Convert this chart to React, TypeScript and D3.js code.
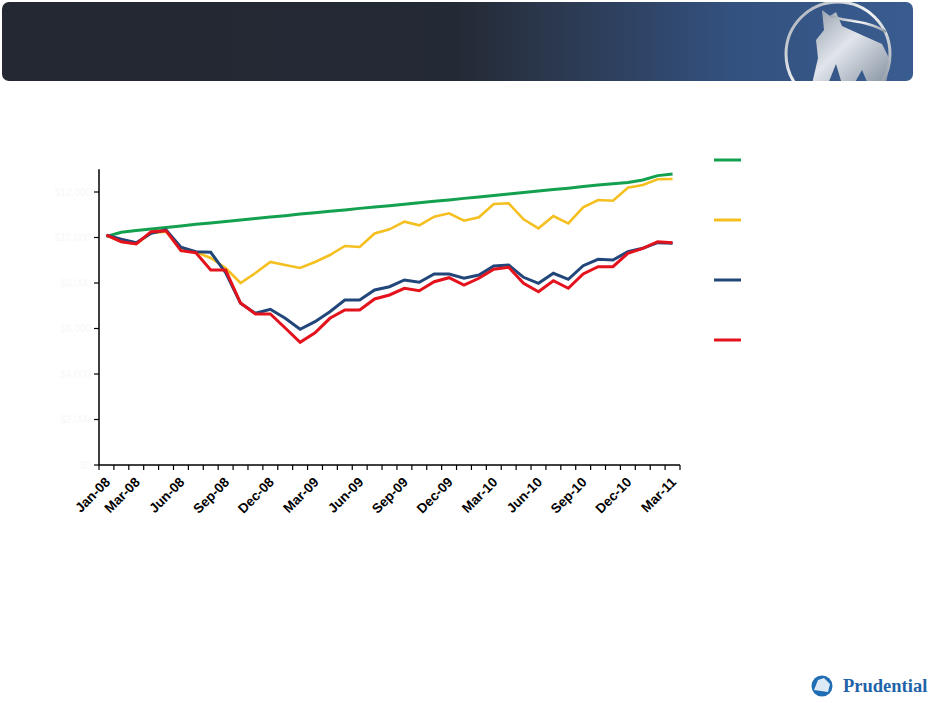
import React from 'react';
import * as d3 from 'd3';

const months = [
    'Jan-08', 'Feb-08', 'Mar-08', 'Apr-08', 'May-08', 'Jun-08', 'Jul-08', 'Aug-08', 'Sep-08', 'Oct-08', 'Nov-08', 'Dec-08',
    'Jan-09', 'Feb-09', 'Mar-09', 'Apr-09', 'May-09', 'Jun-09', 'Jul-09', 'Aug-09', 'Sep-09', 'Oct-09', 'Nov-09', 'Dec-09',
    'Jan-10', 'Feb-10', 'Mar-10', 'Apr-10', 'May-10', 'Jun-10', 'Jul-10', 'Aug-10', 'Sep-10', 'Oct-10', 'Nov-10', 'Dec-10',
    'Jan-11', 'Feb-11', 'Mar-11',
];

const tickLabels = [
    'Jan-08', 'Mar-08', 'Jun-08', 'Sep-08', 'Dec-08', 'Mar-09', 'Jun-09', 'Sep-09',
    'Dec-09', 'Mar-10', 'Jun-10', 'Sep-10', 'Dec-10', 'Mar-11',
];

const yTicks = [0, 2000, 4000, 6000, 8000, 10000, 12000];

const greenSeries = [
    10050, 10230, 10310, 10370, 10440, 10510, 10580, 10640, 10700, 10770, 10830, 10900, 10960,
    11030, 11090, 11150, 11210, 11280, 11340, 11400, 11460, 11530, 11590, 11650, 11720, 11780,
    11850, 11910, 11980, 12040, 12110, 12170, 12240, 12310, 12360, 12420, 12530, 12720, 12790,
];

const yellowSeries = [
    10100, 9815, 9714, 10198, 10255, 9451, 9363, 9099, 8659, 8000, 8440, 8923, 8791,
    8659, 8923, 9231, 9626, 9582, 10176, 10360, 10695, 10536, 10914, 11064, 10738, 10888,
    11473, 11503, 10800, 10404, 10945, 10624, 11327, 11648, 11618, 12189, 12308, 12558, 12570,
];

const blueSeries = [
    10100, 9921, 9771, 10185, 10330, 9569, 9376, 9349, 8453, 7108, 6668, 6844, 6448,
    5965, 6299, 6738, 7253, 7253, 7692, 7837, 8132, 8031, 8396, 8396, 8207, 8352,
    8747, 8791, 8250, 7987, 8426, 8163, 8760, 9042, 9011, 9376, 9525, 9771, 9745,
];

const redSeries = [
    10100, 9815, 9714, 10255, 10299, 9420, 9332, 8571, 8571, 7121, 6637, 6637, 6022,
    5393, 5815, 6448, 6813, 6813, 7297, 7473, 7767, 7662, 8057, 8233, 7912, 8207,
    8602, 8690, 7987, 7618, 8101, 7767, 8396, 8717, 8717, 9305, 9525, 9815, 9771,
];

const seriesColors = ['#13a04f', '#f4bf1f', '#22467a', '#e3121c'];
const seriesWidths = [3, 2.6, 3, 3];

const W = 932;
const H = 703;

const App: React.FC = () => {
    const x = d3.scaleBand<string>().domain(months).range([99, 680]);
    const y = d3.scaleLinear().domain([0, 13000]).range([465, 169.25]);
    const cx = (m: string) => (x(m) as number) + x.bandwidth() / 2;

    const line = d3
        .line<number>()
        .x((_, i) => cx(months[i]))
        .y((d) => y(d));

    const allSeries = [greenSeries, yellowSeries, blueSeries, redSeries];

    // tick marks sit on the category boundaries, like Excel
    const boundaries = d3.range(months.length + 1).map((i) => 99 + i * x.step());

    return (
        <div style={{ position: 'absolute', left: 0, top: 0 }}>
            <svg width={W} height={H} style={{ display: 'block', background: '#fff' }}>
                <defs>
                    <linearGradient id="band" x1="0" x2="1" y1="0" y2="0">
                        <stop offset="0" stopColor="#232832" />
                        <stop offset="0.5" stopColor="#242a35" />
                        <stop offset="0.62" stopColor="#2c3a52" />
                        <stop offset="0.8" stopColor="#33517f" />
                        <stop offset="1" stopColor="#395c90" />
                    </linearGradient>
                    <linearGradient id="silver" x1="0" x2="1" y1="0" y2="1">
                        <stop offset="0" stopColor="#9aa3ad" />
                        <stop offset="0.45" stopColor="#f4f5f6" />
                        <stop offset="1" stopColor="#8c96a2" />
                    </linearGradient>
                    <clipPath id="bandClip">
                        <rect x={2} y={2} width={911} height={79} rx={7} />
                    </clipPath>
                </defs>

                {/* header banner */}
                <rect x={2} y={2} width={911} height={79} rx={7} fill="url(#band)" />
                <g clipPath="url(#bandClip)">
                    <circle cx={838} cy={54} r={52} fill="none" stroke="url(#silver)" strokeWidth={3} />
                    <path
                        d="M822,10 L830,16 L836,12 L842,26 L864,36 L882,44 L890,60 L886,84 L868,84 L862,70 L854,84 L842,84 L836,64 L828,84 L812,84 L818,58 L816,40 L824,30 Z"
                        fill="url(#silver)"
                        opacity={0.9}
                    />
                    <path d="M830,16 C846,22 868,20 886,32" fill="none" stroke="url(#silver)" strokeWidth={2.5} />
                </g>

                {/* axes */}
                <line x1={99} x2={99} y1={169.25} y2={465} stroke="#000" strokeWidth={1.5} />
                <line x1={99} x2={680} y1={465} y2={465} stroke="#000" strokeWidth={1.5} />
                {yTicks.map((t) => (
                    <g key={t}>
                        <line x1={94} x2={99} y1={y(t)} y2={y(t)} stroke="#000" strokeWidth={1.2} />
                        <text
                            x={91}
                            y={y(t) + 3.5}
                            textAnchor="end"
                            fontFamily="Liberation Sans, Arial, sans-serif"
                            fontSize={10}
                            fill="#f8f8f8"
                        >
                            {d3.format('$,')(t)}
                        </text>
                    </g>
                ))}
                {boundaries.map((bx, i) => (
                    <line key={i} x1={bx} x2={bx} y1={465} y2={470} stroke="#000" strokeWidth={1.2} />
                ))}
                {tickLabels.map((m) => (
                    <text
                        key={m}
                        transform={`translate(${cx(m) + 4.5},${483}) rotate(-45)`}
                        textAnchor="end"
                        fontFamily="Liberation Sans, Arial, sans-serif"
                        fontWeight="bold"
                        fontSize={13.5}
                        fill="#000"
                    >
                        {m}
                    </text>
                ))}

                {/* series */}
                {allSeries.map((s, i) => (
                    <path
                        key={i}
                        d={line(s) as string}
                        fill="none"
                        stroke={seriesColors[i]}
                        strokeWidth={seriesWidths[i]}
                        strokeLinejoin="miter"
                    />
                ))}

                {/* legend swatches */}
                {seriesColors.map((c, i) => (
                    <line key={c} x1={714} x2={741} y1={160 + i * 60} y2={160 + i * 60} stroke={c} strokeWidth={3} />
                ))}

                {/* footer logo */}
                <g>
                    <circle cx={822} cy={686} r={10.5} fill="#1f6db5" />
                    <path d="M814,690 L818,680 L824,678 L830,684 L828,692 Z" fill="#ffffff" opacity={0.85} />
                    <text
                        x={843}
                        y={692}
                        fontFamily="Liberation Serif, 'DejaVu Serif', serif"
                        fontWeight="bold"
                        fontSize={18.5}
                        fill="#1f64a8"
                    >
                        Prudential
                    </text>
                </g>
            </svg>
        </div>
    );
};

export default App;
